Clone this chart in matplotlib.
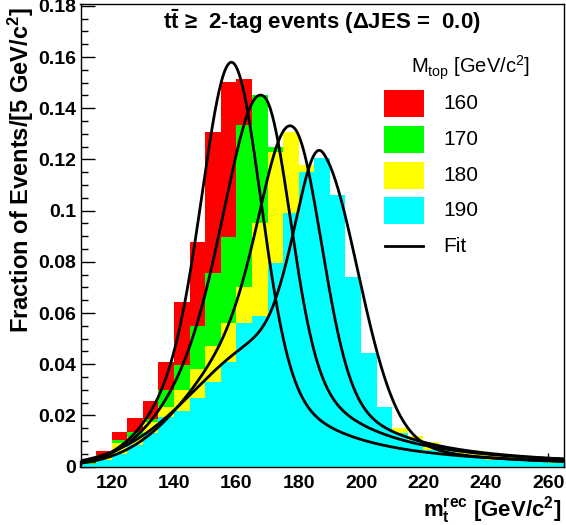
import numpy as np
import matplotlib
matplotlib.use("Agg")
import matplotlib.pyplot as plt
from matplotlib.patches import Rectangle
from matplotlib.lines import Line2D

plt.rcParams['font.family'] = ['Liberation Sans', 'DejaVu Sans']
plt.rcParams['mathtext.fontset'] = 'custom'
plt.rcParams['mathtext.rm'] = 'Liberation Sans'
plt.rcParams['mathtext.it'] = 'Liberation Sans:italic'
plt.rcParams['mathtext.bf'] = 'Liberation Sans:bold'

# ---------------- data ----------------
bin_edges = np.arange(110, 270, 5)   # 110 ... 265
masses = ["160", "170", "180", "190"]
colors = ["#ff0000", "#00ff00", "#ffff00", "#00ffff"]

h160 = [0.0018, 0.0062, 0.0137, 0.0191, 0.0258, 0.0410, 0.0644, 0.0879, 0.1308, 0.1503,
        0.1513, 0.1100, 0.0700, 0.0400, 0.0270, 0.0200, 0.0160, 0.0130, 0.0110, 0.0090,
        0.0075, 0.0065, 0.0055, 0.0048, 0.0040, 0.0035, 0.0030, 0.0026, 0.0022, 0.0020, 0.0018]
h170 = [0.0015, 0.0045, 0.0104, 0.0134, 0.0185, 0.0300, 0.0397, 0.0550, 0.0755, 0.0898,
        0.1334, 0.1451, 0.1250, 0.0900, 0.0550, 0.0380, 0.0280, 0.0210, 0.0170, 0.0140,
        0.0115, 0.0095, 0.0080, 0.0065, 0.0055, 0.0045, 0.0038, 0.0032, 0.0027, 0.0023, 0.0020]
h180 = [0.0012, 0.0035, 0.0091, 0.0117, 0.0176, 0.0234, 0.0300, 0.0380, 0.0470, 0.0560,
        0.0700, 0.0950, 0.1230, 0.1308, 0.1178, 0.0850, 0.0550, 0.0360, 0.0250, 0.0190,
        0.0150, 0.0120, 0.0095, 0.0078, 0.0065, 0.0055, 0.0045, 0.0038, 0.0032, 0.0027, 0.0023]
h190 = [0.0012, 0.0025, 0.0050, 0.0085, 0.0130, 0.0195, 0.0218, 0.0270, 0.0330, 0.0410,
        0.0562, 0.0589, 0.0795, 0.0990, 0.1152, 0.1204, 0.1060, 0.0742, 0.0443, 0.0234,
        0.0130, 0.0104, 0.0065, 0.0065, 0.0046, 0.0035, 0.0026, 0.0026, 0.0030, 0.0020, 0.0015]
hists = [h160, h170, h180, h190]

# fit parameters (Gaussian core + broad component)
fit_mu = [158.8, 169.0, 178.7, 187.7]
fit_core = [0.111, 0.090, 0.084, 0.093]
fit_sig_left = [9.0, 11.1, 10.0, 8.0]
fit_sig_right = [9.0, 8.3, 8.8, 12.0]
fit_broad_pos = [155.0, 163.0, 170.0, 172.0]
fit_broad = [0.048, 0.058, 0.055, 0.050]
fit_broad_left = [17.0, 19.7, 22.0, 25.0]
fit_broad_tail = [24.0, 23.5, 23.0, 19.0]


def fit_func(x, mu, c, sl, sr, m, b, bl, g):
    core = np.where(x < mu, c * np.exp(-0.5 * ((x - mu) / sl) ** 2),
                    c * np.exp(-0.5 * ((x - mu) / sr) ** 2))
    broad = np.where(x < m, b * np.exp(-0.5 * ((x - m) / bl) ** 2),
                     b * g ** 2 / (g ** 2 + (x - m) ** 2))
    return core + broad


# ---------------- figure ----------------
W, H = 566, 525
fig = plt.figure(figsize=(W / 100, H / 100), dpi=100)
L, R, T, B = 80.5, 563.7, 3.5, 466.7
ax = fig.add_axes([L / W, 1 - B / H, (R - L) / W, (B - T) / H])

for h, c in zip(hists, colors):
    ax.stairs(h, bin_edges, fill=True, color=c, linewidth=0, zorder=2)

xs = np.linspace(110, 265, 800)
for i in range(4):
    ys = fit_func(xs, fit_mu[i], fit_core[i], fit_sig_left[i], fit_sig_right[i],
                  fit_broad_pos[i], fit_broad[i], fit_broad_left[i], fit_broad_tail[i])
    ax.plot(xs, ys, color='black', lw=2.0, zorder=3, solid_capstyle='round')

ax.set_xlim(110, 265)
ax.set_ylim(0, 0.1809)

ax.set_xticks(np.arange(120, 261, 20))
ax.set_xticks(np.arange(110, 266, 5), minor=True)
ax.set_yticks(np.arange(0, 0.181, 0.02))
ax.set_yticks(np.arange(0, 0.181, 0.005), minor=True)
ax.set_yticklabels(['0', '0.02', '0.04', '0.06', '0.08', '0.1', '0.12', '0.14', '0.16', '0.18'])
ax.tick_params(which='both', direction='in', top=False, right=False, width=1.0, color='black')
ax.tick_params(which='major', length=10)
ax.tick_params(which='minor', length=5)
ax.tick_params(axis='x', which='major', pad=6, labelsize=14)
ax.tick_params(axis='y', which='major', pad=3, labelsize=14)
for lab in ax.get_xticklabels() + ax.get_yticklabels():
    lab.set_fontweight('bold')
for sp in ax.spines.values():
    sp.set_linewidth(1.0)
    sp.set_zorder(5)

# axis titles
fig.text(21 / W, 1 - 7 / H, r'Fraction of Events/[5 GeV/c$^{\mathbf{2}}$]', rotation=90,
         ha='center', va='top', fontsize=17, fontweight='bold')
fig.text(561 / W, 1 - 510 / H, r'$\mathbf{m_{t}^{rec}}$ [GeV/c$^{\mathbf{2}}$]',
         ha='right', va='center', fontsize=16, fontweight='bold')

# title inside plot
ax.text(0.5, 0.962, r'$\mathbf{t\bar{t}}$' + ' \u2265  2-tag events (\u0394JES =  0.0)',
        transform=ax.transAxes, ha='center', va='center', fontsize=16, fontweight='bold')

# legend (manual)
fig.text(471 / W, 1 - 68 / H, r'M$_{\mathrm{top}}$ [GeV/c$^{2}$]', ha='center', va='center',
         fontsize=14.5)
box_tops = [90, 126, 162, 197]
for top, c, lab in zip(box_tops, colors, masses):
    fig.patches.append(Rectangle((384 / W, 1 - (top + 27) / H), 40 / W, 27 / H,
                                 transform=fig.transFigure, facecolor=c, edgecolor='none'))
    fig.text(443 / W, 1 - (top + 13.5) / H, lab, ha='left', va='center', fontsize=15)
fig.lines.append(Line2D([385 / W, 423 / W], [1 - 246 / H, 1 - 246 / H], transform=fig.transFigure,
                        color='black', lw=2.0))
fig.text(443 / W, 1 - 246 / H, 'Fit', ha='left', va='center', fontsize=15)

fig.savefig('out.png', dpi=100)
